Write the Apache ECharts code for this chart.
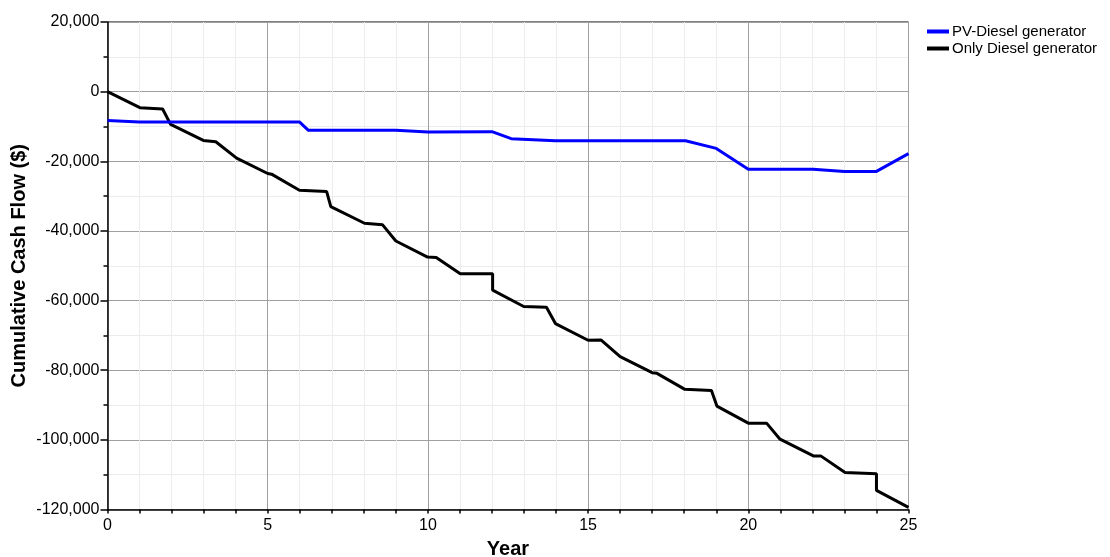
<!DOCTYPE html>
<html>
<head>
<meta charset="utf-8">
<script src="https://cdn.jsdelivr.net/npm/echarts@6/dist/echarts.min.js"></script>
<style>
html,body{margin:0;padding:0;background:#fff;}
#chart{width:1110px;height:557px;}
</style>
</head>
<body>
<div id="chart"></div>
<script>
var seriesNames = ["PV-Diesel generator", "Only Diesel generator"];
var pvYears  = [0, 1, 5.99, 6.27, 9.0, 10.0, 12.0, 12.6, 13.97, 18.04, 19.0, 20.0, 22.02, 23.0, 24.0, 25.0];
var pvValues = [-8300, -8700, -8700, -11100, -11100, -11600, -11500, -13500, -14100, -14100, -16300, -22300, -22300, -22900, -22900, -17800];
var dieselYears  = [0, 1.01, 1.72, 1.97, 2.99, 3.38, 4.03, 5.0, 5.12, 5.99, 6.84, 6.97, 8.02, 8.58, 9.0, 9.99, 10.26, 11.01, 12.02, 12.02, 12.99, 13.7, 13.98, 15.0, 15.4, 16.0, 17.0, 17.15, 18.02, 18.85, 19.02, 20.0, 20.57, 20.99, 22.03, 22.26, 23.02, 24.0, 24.0, 25.0];
var dieselValues = [0, -4600, -5000, -9400, -14000, -14400, -19100, -23500, -23700, -28300, -28700, -33000, -37800, -38200, -42900, -47500, -47600, -52300, -52300, -57000, -61700, -61900, -66600, -71400, -71300, -76100, -80700, -80900, -85500, -85800, -90300, -95200, -95200, -99800, -104600, -104600, -109400, -109700, -114500, -119400];
var xTicks = [0, 5, 10, 15, 20, 25];
var yTicks = [20000, 0, -20000, -40000, -60000, -80000, -100000, -120000];

function pairs(xs, ys){ return xs.map(function(x,i){ return [x, ys[i]]; }); }
function fmt(v){
  var s = Math.abs(v).toString().replace(/\B(?=(\d{3})+(?!\d))/g, ",");
  return (v < 0 ? "-" : "") + s;
}

var chart = echarts.init(document.getElementById('chart'), null, {renderer:'canvas'});
var font = "Liberation Sans, Arial, sans-serif";
chart.setOption({
  animation: false,
  backgroundColor: '#fff',
  textStyle: {fontFamily: font},
  grid: {left: 107.5, right: 201.5, top: 22, bottom: 47.5, containLabel: false, outerBoundsMode: 'none', show: true, borderColor: '#000', borderWidth: 1, backgroundColor: 'transparent'},
  legend: {
    orient: 'vertical', left: 922, top: 19,
    icon: 'rect', itemWidth: 22, itemHeight: 4, itemGap: 2,
    textStyle: {fontFamily: font, fontSize: 15, color: '#000', lineHeight: 15, padding: [0,0,0,-2]},
    data: seriesNames
  },
  xAxis: {
    type: 'value', min: xTicks[0], max: xTicks[xTicks.length-1], interval: 5,
    name: 'Year', nameLocation: 'middle', nameGap: 30, nameMoveOverlap: false,
    nameTextStyle: {fontFamily: font, fontSize: 20, fontWeight: 'bold', color: '#000'},
    axisLine: {show: true, onZero: false, lineStyle: {color: '#000', width: 1.5}},
    axisTick: {show: true, inside: false, length: 4, lineStyle: {color: '#000', width: 1.5}},
    minorTick: {show: true, splitNumber: 5, length: 4, lineStyle: {color: '#000', width: 1.5}},
    axisLabel: {fontFamily: font, fontSize: 16, color: '#000', margin: 8},
    splitLine: {show: true, lineStyle: {color: '#a0a0a0', width: 1}},
    minorSplitLine: {show: true, lineStyle: {color: '#ececec', width: 1}}
  },
  yAxis: {
    type: 'value', min: yTicks[yTicks.length-1], max: yTicks[0], interval: 20000,
    name: 'Cumulative Cash Flow ($)', nameLocation: 'middle', nameGap: 78, nameRotate: 90, nameMoveOverlap: false,
    nameTextStyle: {fontFamily: font, fontSize: 20, fontWeight: 'bold', color: '#000'},
    axisLine: {show: true, onZero: false, lineStyle: {color: '#000', width: 1.5}},
    axisTick: {show: true, inside: false, length: 7, lineStyle: {color: '#000', width: 1.5}},
    minorTick: {show: true, splitNumber: 2, length: 4, lineStyle: {color: '#000', width: 1.5}},
    axisLabel: {fontFamily: font, fontSize: 16, color: '#000', margin: 8, formatter: fmt},
    splitLine: {show: true, lineStyle: {color: '#a0a0a0', width: 1}},
    minorSplitLine: {show: true, lineStyle: {color: '#ececec', width: 1}}
  },
  series: [
    {name: seriesNames[0], type: 'line', data: pairs(pvYears, pvValues), showSymbol: false, lineStyle: {color: '#0000ff', width: 3}, itemStyle: {color: '#0000ff'}, z: 3},
    {name: seriesNames[1], type: 'line', data: pairs(dieselYears, dieselValues), showSymbol: false, lineStyle: {color: '#000', width: 3}, itemStyle: {color: '#000'}, z: 2}
  ]
});
</script>
</body>
</html>
